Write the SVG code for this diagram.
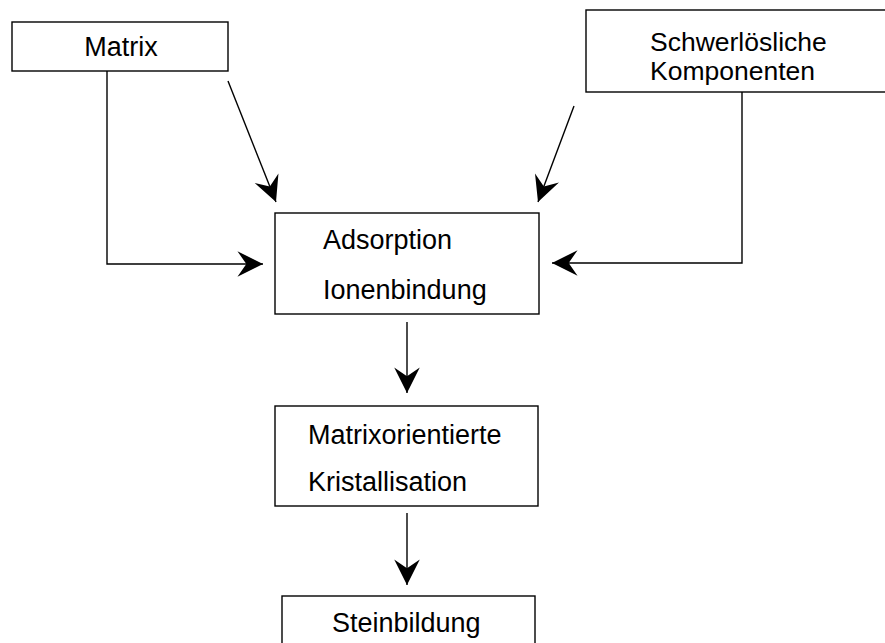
<svg xmlns="http://www.w3.org/2000/svg" width="885" height="643" viewBox="0 0 885 643">
<defs>
<style>
.box{fill:#fff;stroke:#000;stroke-width:1.4}
.t{font-family:"Liberation Sans",Arial,Helvetica,sans-serif;font-size:27px;fill:#000}
.s{font-size:26.5px}
.c{fill:none;stroke:#000;stroke-width:1.4}
</style>
<marker id="ah" markerUnits="userSpaceOnUse" markerWidth="30" markerHeight="30" viewBox="-25 -13 27 26" refX="0" refY="0" orient="auto">
<path d="M0,0 L-23,-11.5 L-15,0 L-23,11.5 Z" fill="#000"/>
</marker>
</defs>
<rect width="885" height="643" fill="#fff"/>
<g id="connectors">
<polyline class="c" points="107,71 107,264 263,264" marker-end="url(#ah)"/>
<line class="c" x1="228" y1="81" x2="276" y2="202" marker-end="url(#ah)"/>
<polyline class="c" points="742,92 742,263 552,263" marker-end="url(#ah)"/>
<line class="c" x1="574" y1="106" x2="538" y2="202" marker-end="url(#ah)"/>
<line class="c" x1="407" y1="322" x2="407" y2="393" marker-end="url(#ah)"/>
<line class="c" x1="407" y1="513" x2="407" y2="585" marker-end="url(#ah)"/>
</g>
<g id="matrix">
<rect class="box" x="12" y="22" width="216" height="49"/>
<text class="t" x="121" y="56" text-anchor="middle">Matrix</text>
</g>
<g id="schwer">
<rect class="box" x="586" y="10" width="310" height="82"/>
<text class="t s" x="650" y="50.5">Schwerlösliche</text>
<text class="t s" x="650" y="80">Komponenten</text>
</g>
<g id="adsorption">
<rect class="box" x="275" y="213" width="264" height="101"/>
<text class="t" x="323" y="249">Adsorption</text>
<text class="t" x="323" y="299">Ionenbindung</text>
</g>
<g id="kristall">
<rect class="box" x="275" y="406" width="263" height="100"/>
<text class="t" x="308" y="444">Matrixorientierte</text>
<text class="t" x="308" y="491">Kristallisation</text>
</g>
<g id="stein">
<rect class="box" x="282" y="596" width="253" height="60"/>
<text class="t" x="332" y="632">Steinbildung</text>
</g>
</svg>
